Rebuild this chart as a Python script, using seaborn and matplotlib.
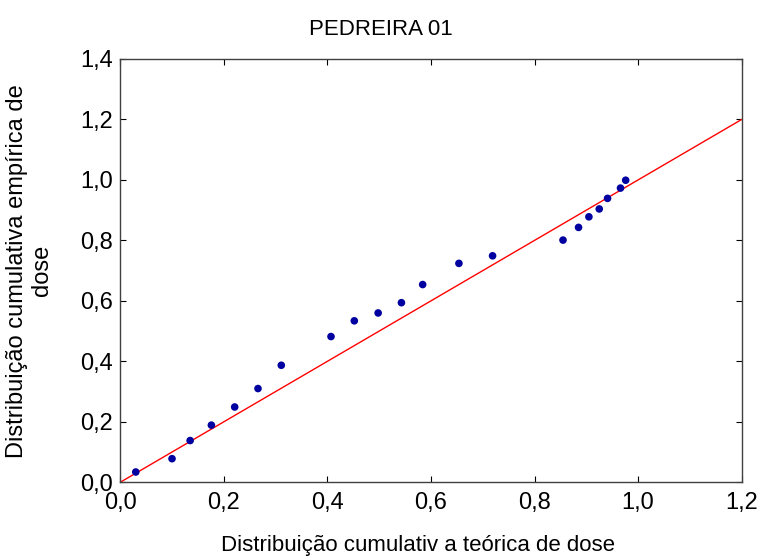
import matplotlib
matplotlib.use("Agg")
import matplotlib.pyplot as plt
import seaborn as sns
import numpy as np
import pandas as pd
from matplotlib.ticker import FuncFormatter, FixedLocator

theoretical = [0.030, 0.100, 0.135, 0.176, 0.221, 0.266, 0.311, 0.407, 0.452, 0.498,
               0.543, 0.584, 0.654, 0.719, 0.855, 0.885, 0.905, 0.925, 0.941, 0.966, 0.976]
empirical = [0.034, 0.078, 0.138, 0.189, 0.249, 0.310, 0.387, 0.482, 0.534, 0.560,
             0.594, 0.654, 0.724, 0.749, 0.801, 0.843, 0.878, 0.904, 0.939, 0.973, 0.999]
ref_line = [0.0, 1.2]
x_ticks = [0.0, 0.2, 0.4, 0.6, 0.8, 1.0, 1.2]
y_ticks = [0.0, 0.2, 0.4, 0.6, 0.8, 1.0, 1.2, 1.4]

sns.set_style("white")
plt.rcParams['font.family'] = ['Liberation Sans', 'DejaVu Sans']
plt.rcParams['text.color'] = 'black'
plt.rcParams['axes.labelcolor'] = 'black'

df = pd.DataFrame({"x": theoretical, "y": empirical})
fig = plt.figure(figsize=(7.61, 5.58), dpi=100)
ax = fig.add_axes([0.158, 0.1357, 0.8166, 0.7586])

sns.lineplot(x=ref_line, y=ref_line, color="#ff0000", linewidth=1.0, ax=ax)
sns.scatterplot(data=df, x="x", y="y", color="#0000a0", s=30, edgecolor="none", ax=ax, zorder=3)

ax.set_xlim(0, 1.2)
ax.set_ylim(0, 1.4)
ax.xaxis.set_major_locator(FixedLocator(x_ticks))
ax.yaxis.set_major_locator(FixedLocator(y_ticks))
fmt = FuncFormatter(lambda v, p: f"{v:.1f}".replace(".", ","))
ax.xaxis.set_major_formatter(fmt)
ax.yaxis.set_major_formatter(fmt)
ax.tick_params(direction="in", length=4, width=0.8, labelsize=17, colors="black",
               labelcolor="black", top=True, right=True, bottom=True, left=True)
ax.tick_params(axis="x", pad=7)
ax.tick_params(axis="y", pad=5)
for s in ax.spines.values():
    s.set_color("#404040")
    s.set_linewidth(1.0)

ax.set_title("PEDREIRA 01", fontsize=16, pad=17, x=0.419, color="black")
ax.set_xlabel("Distribuição cumulativ a teórica de dose", fontsize=16, labelpad=14,
              color="black")
ax.xaxis.set_label_coords(0.479, -0.125)
ax.set_ylabel("Distribuição cumulativa empírica de\ndose", fontsize=17, labelpad=20,
              linespacing=1.15, color="black")

fig.savefig("out.png", dpi=100)
